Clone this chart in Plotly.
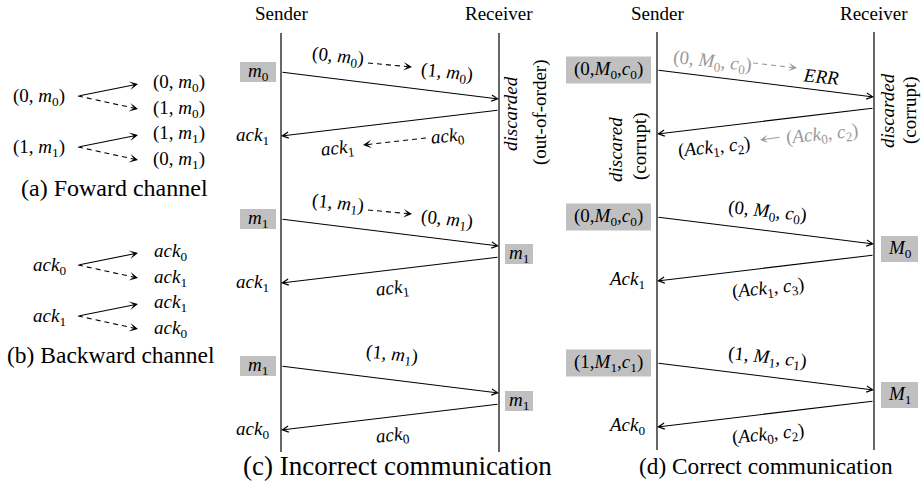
import plotly.graph_objects as go

def mi(sym, sub):
    return f"<i>{sym}</i><sub>{sub}</sub>"

# ---------------- data ----------------
# (a) forward channel: source frame -> delivered intact / delivered with flipped bit
fwd_sources = ["(0, " + mi("m", "0") + ")", "(1, " + mi("m", "1") + ")"]
fwd_intact = ["(0, " + mi("m", "0") + ")", "(1, " + mi("m", "1") + ")"]
fwd_flipped = ["(1, " + mi("m", "0") + ")", "(0, " + mi("m", "1") + ")"]
# (b) backward channel
bwd_sources = [mi("ack", "0"), mi("ack", "1")]
bwd_intact = [mi("ack", "0"), mi("ack", "1")]
bwd_flipped = [mi("ack", "1"), mi("ack", "0")]

# (c) incorrect communication, three rounds
c_sender_msgs = [mi("m", "0"), mi("m", "1"), mi("m", "1")]
c_sent_frames = ["(0, " + mi("m", "0") + ")", "(1, " + mi("m", "1") + ")", "(1, " + mi("m", "1") + ")"]
c_recv_frames = ["(1, " + mi("m", "0") + ")", "(0, " + mi("m", "1") + ")", None]
c_delivered = [None, mi("m", "1"), mi("m", "1")]
c_sent_acks = [mi("ack", "0"), mi("ack", "1"), mi("ack", "0")]
c_recv_acks = [mi("ack", "1"), None, None]
c_sender_state = [mi("ack", "1"), mi("ack", "1"), mi("ack", "0")]

# (d) correct communication, three rounds
d_sender_msgs = ["(0," + mi("M", "0") + "," + mi("c", "0") + ")",
                 "(0," + mi("M", "0") + "," + mi("c", "0") + ")",
                 "(1," + mi("M", "1") + "," + mi("c", "1") + ")"]
d_sent_frames = ["(0, " + mi("M", "0") + ", " + mi("c", "0") + ")",
                 "(0, " + mi("M", "0") + ", " + mi("c", "0") + ")",
                 "(1, " + mi("M", "1") + ", " + mi("c", "1") + ")"]
d_recv_frames = ["<i>ERR</i>", None, None]
d_delivered = [None, mi("M", "0"), mi("M", "1")]
d_sent_acks = ["(" + mi("Ack", "0") + ", " + mi("c", "2") + ")",
               "(" + mi("Ack", "1") + ", " + mi("c", "3") + ")",
               "(" + mi("Ack", "0") + ", " + mi("c", "2") + ")"]
d_recv_acks = ["(" + mi("Ack", "1") + ", " + mi("c", "2") + ")", None, None]
d_sender_state = [None, mi("Ack", "1"), mi("Ack", "0")]

captions = ["(a) Foward channel", "(b) Backward channel",
            "(c) Incorrect communication", "(d) Correct communication"]

# ---------------- drawing helpers ----------------
FONT = "Liberation Serif, Times New Roman, serif"
LBL = 19
CAP = 24
HDR = 19
ann = []
shapes = []
fig = go.Figure()

def txt(x, y, s, size=LBL, color="black", angle=0, xanchor="center"):
    ann.append(dict(x=x, y=y, xref="x", yref="y", text=s, showarrow=False,
                    font=dict(family=FONT, size=size, color=color),
                    textangle=angle, xanchor=xanchor, yanchor="middle"))

def arrow(x0, y0, x1, y1, head=5, color="black", width=1.1, size=1.1):
    ann.append(dict(x=x1, y=y1, ax=x0, ay=y0, xref="x", yref="y", axref="x", ayref="y",
                    text="", showarrow=True, arrowhead=head, arrowsize=size,
                    arrowwidth=width, arrowcolor=color, standoff=0, startstandoff=0))

def dashed(x0, y0, x1, y1, color="black"):
    L = ((x1 - x0) ** 2 + (y1 - y0) ** 2) ** 0.5
    ux, uy = (x1 - x0) / L, (y1 - y0) / L
    fig.add_trace(go.Scatter(x=[x0, x1 - 5 * ux], y=[y0, y1 - 5 * uy], mode="lines",
                             line=dict(color=color, width=1.1, dash="5px,4px"),
                             hoverinfo="skip", showlegend=False))
    arrow(x1 - 6 * ux, y1 - 6 * uy, x1, y1, head=3, color=color, size=1.3)

def box(cx, cy, w, h):
    shapes.append(dict(type="rect", xref="x", yref="y", x0=cx - w / 2, x1=cx + w / 2,
                       y0=cy - h / 2, y1=cy + h / 2, fillcolor="#c0c0c0",
                       line=dict(width=0), layer="below"))

def vline(x, y0, y1):
    shapes.append(dict(type="line", xref="x", yref="y", x0=x, x1=x, y0=y0, y1=y1,
                       line=dict(color="black", width=1.2)))

# ---------------- (a) and (b) channels ----------------
def channel(src, ok, bad, rows_y, src_x, out_x):
    for s, o, b, y in zip(src, ok, bad, rows_y):
        txt(src_x, y, s)
        arrow(78, y - 1, 138, y - 13, head=3, size=1.3)
        dashed(78, y - 1, 138, y + 12)
        txt(out_x, y - 14, o)
        txt(out_x, y + 12, b)

channel(fwd_sources, fwd_intact, fwd_flipped, [97, 148], 39, 179)
channel(bwd_sources, bwd_intact, bwd_flipped, [266, 317], 49, 170)
txt(114, 188, captions[0], size=CAP)
txt(111, 355, captions[1], size=23.5)

# ---------------- (c) incorrect communication ----------------
cS, cR = 281, 499
txt(cS, 13, "Sender", size=HDR)
txt(cR, 13, "Receiver", size=HDR)
vline(cS, 33, 452)
vline(cR, 33, 452)
c_rows = [72, 219, 366]
for i, r in enumerate(c_rows):
    box(258, r, 36, 20)
    txt(258, r, c_sender_msgs[i])
    arrow(cS, r, cR, r + 27)
    if c_recv_frames[i] is not None:
        txt(338, r - 15, c_sent_frames[i], angle=6)
        dashed(368, r - 9, 412, r - 5)
        txt(447, r + 1, c_recv_frames[i], angle=6)
    else:
        txt(392, r - 11, c_sent_frames[i], angle=6)
    if c_delivered[i] is not None:
        box(519, r + 35, 28, 20)
        txt(519, r + 35, c_delivered[i])
    else:
        txt(510, r + 42, "<i>discarded</i>", angle=-90)
        txt(540, r + 40, "(out-of-order)", angle=-90)
    arrow(cR, r + 38, cS, r + 64)
    txt(252, r + 64, c_sender_state[i])
    if c_recv_acks[i] is not None:
        txt(447, r + 65, c_sent_acks[i], angle=-6)
        dashed(426, r + 66, 363, r + 73)
        txt(337, r + 77, c_recv_acks[i], angle=-6)
    else:
        txt(392, r + 70, c_sent_acks[i], angle=-6)
txt(397, 466, captions[2], size=27)

# ---------------- (d) correct communication ----------------
dS, dR = 657, 874
txt(dS, 13, "Sender", size=HDR)
txt(dR, 13, "Receiver", size=HDR)
vline(dS, 32, 450)
vline(dR, 32, 450)
d_rows = [70, 217, 363]
GRAY = "#9a9a9a"
for i, r in enumerate(d_rows):
    box(608.5, r, 85, 27)
    txt(608.5, r, d_sender_msgs[i])
    arrow(dS, r, dR, r + 27)
    if d_recv_frames[i] is not None:
        txt(712, r - 8, d_sent_frames[i], color=GRAY, angle=6)
        dashed(753, r - 7, 797, r - 2, color=GRAY)
        txt(821, r + 6, d_recv_frames[i], angle=6)
    else:
        txt(767, r - 5, d_sent_frames[i], angle=6)
    if d_delivered[i] is not None:
        box(899.5, r + 32, 37, 26)
        txt(899.5, r + 32, d_delivered[i])
    else:
        txt(887, r + 41, "<i>discarded</i>", angle=-90)
        txt(910, r + 40, "(corrupt)", angle=-90)
    arrow(dR, r + 38, dS, r + 64)
    if d_sender_state[i] is not None:
        txt(626, r + 63, d_sender_state[i])
    else:
        txt(615, r + 80, "<i>discared</i>", angle=-90)
        txt(640, r + 76, "(corrupt)", angle=-90)
    if d_recv_acks[i] is not None:
        txt(822, r + 65, d_sent_acks[i], color=GRAY, angle=-6)
        arrow(781, r + 67, 760, r + 70, head=3, color=GRAY, size=1.2)
        txt(714, r + 78, d_recv_acks[i], angle=-6)
    else:
        txt(768, r + 72, d_sent_acks[i], angle=-6)
txt(766, 466, captions[3], size=23.3)

fig.update_layout(
    width=924, height=487, margin=dict(l=0, r=0, t=0, b=0),
    paper_bgcolor="white", plot_bgcolor="white", showlegend=False,
    xaxis=dict(range=[0, 924], visible=False, fixedrange=True),
    yaxis=dict(range=[487, 0], visible=False, fixedrange=True),
    annotations=ann, shapes=shapes,
)
fig.write_html("out.html", config={"displayModeBar": False, "staticPlot": True},
               post_script="document.body.style.margin='0';document.body.style.overflow='hidden';")
